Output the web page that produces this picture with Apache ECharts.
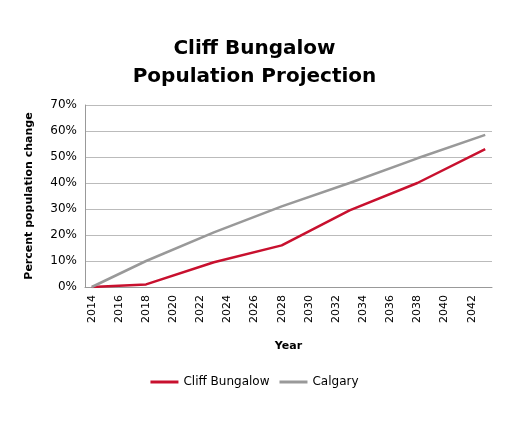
<!DOCTYPE html>
<html><head><meta charset="utf-8">
<script src="https://cdn.jsdelivr.net/npm/echarts@6/dist/echarts.min.js"></script>
<style>html,body{margin:0;padding:0;background:#fff}#c{width:509px;height:425px}</style>
</head><body><div id="c"></div>
<script>
const years = [];
for (let y = 2014; y <= 2043; y++) years.push(String(y));
const pointYears = [2014, 2018, 2023, 2028, 2033, 2038, 2043];
const cliffBungalow = [0, 1, 9.5, 16, 29.5, 40, 53];
const calgary = [0, 10, 21, 31, 40, 49.5, 58.5];
function toSeries(vals){
  const arr = years.map(()=>null);
  pointYears.forEach((y,i)=>{arr[years.indexOf(String(y))]=vals[i];});
  return arr;
}
const chart = echarts.init(document.getElementById('c'));
chart.setOption({
  animation:false,
  textStyle:{fontFamily:'DejaVu Sans'},
  title:{text:'Cliff Bungalow\nPopulation Projection',left:'center',top:30,
    textStyle:{fontSize:20,fontWeight:'bold',color:'#000',lineHeight:28,fontFamily:'DejaVu Sans'}},
  grid:{left:85,right:17,top:105,bottom:138},
  legend:{bottom:32,left:'center',itemWidth:28,itemHeight:3,icon:'rect',itemGap:10,
    textStyle:{fontSize:12,color:'#000'},
    data:['Cliff Bungalow','Calgary']},
  xAxis:{type:'category',data:years,boundaryGap:true,
    name:'Year',nameLocation:'middle',nameGap:54,
    nameTextStyle:{fontWeight:'bold',fontSize:11,color:'#000'},
    axisTick:{show:false},
    axisLine:{lineStyle:{color:'#999'}},
    axisLabel:{interval:1,rotate:90,color:'#000',fontSize:11}},
  yAxis:{type:'value',min:0,max:70,interval:10,
    name:'Percent population change',nameLocation:'middle',nameGap:50,
    nameTextStyle:{fontWeight:'bold',fontSize:11,color:'#000'},
    axisLabel:{formatter:'{value}%',color:'#000',fontSize:12},
    splitLine:{lineStyle:{color:'#bbb'}},
    axisLine:{show:true,lineStyle:{color:'#999'}}},
  series:[
    {name:'Cliff Bungalow',type:'line',data:toSeries(cliffBungalow),connectNulls:true,
      showSymbol:false,lineStyle:{color:'#c8102e',width:2.5},itemStyle:{color:'#c8102e'}},
    {name:'Calgary',type:'line',data:toSeries(calgary),connectNulls:true,
      showSymbol:false,lineStyle:{color:'#999',width:2.5},itemStyle:{color:'#999'}}
  ]
});
</script></body></html>
